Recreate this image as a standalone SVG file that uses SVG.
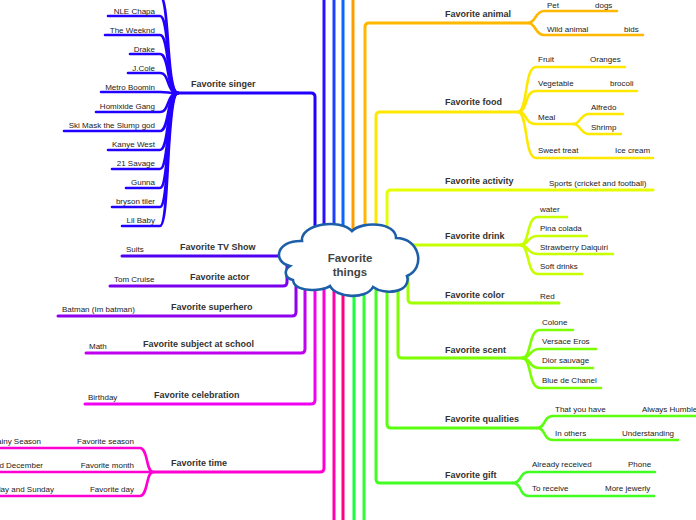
<svg xmlns="http://www.w3.org/2000/svg" width="696" height="520" viewBox="0 0 696 520">
<style>
.c{fill:none;stroke-width:3;stroke-linecap:round;stroke-linejoin:round}
.s{fill:none;stroke-width:2.6;stroke-linecap:round;stroke-linejoin:round}
.lbl{font-family:"Liberation Sans",Arial,sans-serif;font-weight:bold;font-size:9px;fill:#333}
.sub{font-family:"Liberation Sans",Arial,sans-serif;font-size:8px;fill:#222}
.end{text-anchor:end}
.ctr{font-family:"Liberation Sans",Arial,sans-serif;font-weight:bold;font-size:11.5px;fill:#444;text-anchor:middle}
</style>
<rect width="696" height="520" fill="#fff"/>
<g id="connectors">
  <!-- off-canvas trunks -->
  <path class="c" stroke="#2a10ff" d="M324 -5V255"/>
  <path class="c" stroke="#1f40ff" d="M334 -5V255"/>
  <path class="c" stroke="#0a66ff" d="M343 -5V255"/>
  <path class="c" stroke="#ff9d00" d="M353 -5V255"/>
  <path class="c" stroke="#ff00aa" d="M334 265V525"/>
  <path class="c" stroke="#ff0080" d="M343 265V525"/>
  <path class="c" stroke="#1aff3c" d="M354 265V525"/>
  <path class="c" stroke="#30ff30" d="M364 265V525"/>
  <!-- singer -->
  <path class="c" stroke="#2200ff" d="M315 260V97Q315 93 311 93H178"/>
  <g stroke="#2200ff">
    <path class="s" d="M120 -4H160C170 -4 166 93 178 93"/>
    <path class="s" d="M108 16H160C170 16 166 93 178 93"/>
    <path class="s" d="M105 35H160C170 35 166 93 178 93"/>
    <path class="s" d="M130 54H160C170 54 166 93 178 93"/>
    <path class="s" d="M128 73H160C170 73 166 93 178 93"/>
    <path class="s" d="M101 92H160C170 92 166 93 178 93"/>
    <path class="s" d="M96 112H160C170 112 166 93 178 93"/>
    <path class="s" d="M64 131H160C170 131 166 93 178 93"/>
    <path class="s" d="M108 150H160C170 150 166 93 178 93"/>
    <path class="s" d="M112 169H160C170 169 166 93 178 93"/>
    <path class="s" d="M126 188H160C170 188 166 93 178 93"/>
    <path class="s" d="M112 207H160C170 207 166 93 178 93"/>
    <path class="s" d="M122 226H160C170 226 166 93 178 93"/>
  </g>
  <!-- left single branches -->
  <path class="c" stroke="#5000f0" d="M122 256H300"/>
  <path class="c" stroke="#7a00ee" d="M287 260V282Q287 286 283 286H110"/>
  <path class="c" stroke="#9000ee" d="M296 260V312Q296 316 292 316H58"/>
  <path class="c" stroke="#c000f0" d="M305 260V349Q305 353 301 353H86"/>
  <path class="c" stroke="#f000f0" d="M315 260V400Q315 404 311 404H85"/>
  <path class="c" stroke="#ff00d4" d="M324 260V468Q324 472 320 472H153"/>
  <g stroke="#ff00d4">
    <path class="s" d="M-5 448H140C148 448 146 472 153 472"/>
    <path class="s" d="M-5 472H153"/>
    <path class="s" d="M-5 496H140C148 496 146 472 153 472"/>
  </g>
  <!-- animal -->
  <path class="c" stroke="#ffb800" d="M365 260V27Q365 23 369 23H528"/>
  <g stroke="#ffb800">
    <path class="s" d="M528 23C536 23 535 11 544 11H617"/>
    <path class="s" d="M528 23C536 23 535 35 544 35H643"/>
  </g>
  <!-- food -->
  <path class="c" stroke="#ffe800" d="M376 260V116Q376 112 380 112H518"/>
  <g stroke="#ffe800">
    <path class="s" d="M518 112C528 112 524 67 536 67H625"/>
    <path class="s" d="M518 112C528 112 524 91 536 91H637"/>
    <path class="s" d="M518 112C528 112 524 124 536 124H573"/>
    <path class="s" d="M573 124C581 124 580 114 589 114H623"/>
    <path class="s" d="M573 124C581 124 580 134 589 134H621"/>
    <path class="s" d="M518 112C528 112 524 158 536 158H653"/>
  </g>
  <!-- activity -->
  <path class="c" stroke="#e5ff00" d="M387 260V194Q387 190 391 190H653"/>
  <!-- drink -->
  <path class="c" stroke="#c8ff00" d="M395 245H520"/>
  <g stroke="#c8ff00">
    <path class="s" d="M520 245C530 245 526 217 538 217H567"/>
    <path class="s" d="M520 245C530 245 526 236 538 236H587"/>
    <path class="s" d="M520 245C530 245 526 254 538 254H613"/>
    <path class="s" d="M520 245C530 245 526 274 538 274H582"/>
  </g>
  <!-- color -->
  <path class="c" stroke="#a0ff00" d="M408 265V299Q408 303 412 303H559"/>
  <!-- scent -->
  <path class="c" stroke="#7cff00" d="M398 265V354Q398 358 402 358H522"/>
  <g stroke="#7cff00">
    <path class="s" d="M522 358C532 358 528 330 540 330H573"/>
    <path class="s" d="M522 358C532 358 528 349 540 349H596"/>
    <path class="s" d="M522 358C532 358 528 368 540 368H593"/>
    <path class="s" d="M522 358C532 358 528 388 540 388H601"/>
  </g>
  <!-- qualities -->
  <path class="c" stroke="#5aff10" d="M387 265V424Q387 428 391 428H537"/>
  <g stroke="#5aff10">
    <path class="s" d="M537 428C546 428 543 416 553 416H700"/>
    <path class="s" d="M537 428C546 428 543 440 553 440H678"/>
  </g>
  <!-- gift -->
  <path class="c" stroke="#40ff20" d="M376 265V479Q376 483 380 483H513"/>
  <g stroke="#40ff20">
    <path class="s" d="M513 483C522 483 519 472 529 472H655"/>
    <path class="s" d="M513 483C522 483 519 496 529 496H654"/>
  </g>
</g>
<g id="center">
  <path d="M302 241C300 224 340 218 352 231C362 221 396 222 396 238C420 238 426 268 407 276C412 292 385 296 373 287C366 300 336 298 330 286C322 292 294 292 293 280C284 278 284 270 290 266C272 262 276 240 302 241Z" fill="#fff" stroke="#1c5fa8" stroke-width="2.6"/>
  <text class="ctr" x="350" y="262">Favorite</text>
  <text class="ctr" x="350" y="276">things</text>
</g>
<g id="singer">
  <text class="lbl" x="191" y="87">Favorite singer</text>
  <text class="sub end" x="155" y="14">NLE Chapa</text>
  <text class="sub end" x="155" y="33">The Weeknd</text>
  <text class="sub end" x="155" y="52">Drake</text>
  <text class="sub end" x="155" y="71">J.Cole</text>
  <text class="sub end" x="155" y="90">Metro Boomin</text>
  <text class="sub end" x="155" y="109">Homixide Gang</text>
  <text class="sub end" x="155" y="128">Ski Mask the Slump god</text>
  <text class="sub end" x="155" y="147">Kanye West</text>
  <text class="sub end" x="155" y="166">21 Savage</text>
  <text class="sub end" x="155" y="185">Gunna</text>
  <text class="sub end" x="155" y="204">bryson tiler</text>
  <text class="sub end" x="155" y="223">Lil Baby</text>
</g>
<g id="tvshow">
  <text class="lbl" x="180" y="250">Favorite TV Show</text>
  <text class="sub" x="126" y="252">Suits</text>
</g>
<g id="actor">
  <text class="lbl" x="190" y="280">Favorite actor</text>
  <text class="sub" x="114" y="282">Tom Cruise</text>
</g>
<g id="superhero">
  <text class="lbl" x="171" y="310">Favorite superhero</text>
  <text class="sub" x="62" y="312">Batman (Im batman)</text>
</g>
<g id="subject">
  <text class="lbl" x="143" y="347">Favorite subject at school</text>
  <text class="sub" x="89" y="349">Math</text>
</g>
<g id="celebration">
  <text class="lbl" x="154" y="398">Favorite celebration</text>
  <text class="sub" x="88" y="400">Birthday</text>
</g>
<g id="time">
  <text class="lbl" x="171" y="466">Favorite time</text>
  <text class="sub end" x="134" y="444">Favorite season</text>
  <text class="sub end" x="41" y="444">Rainy Season</text>
  <text class="sub end" x="134" y="468">Favorite month</text>
  <text class="sub end" x="43" y="468">November and December</text>
  <text class="sub end" x="134" y="492">Favorite day</text>
  <text class="sub end" x="54" y="492">Saturday and Sunday</text>
</g>
<g id="animal">
  <text class="lbl" x="445" y="17">Favorite animal</text>
  <text class="sub" x="547" y="8">Pet</text>
  <text class="sub" x="595" y="8">dogs</text>
  <text class="sub" x="547" y="32">Wild animal</text>
  <text class="sub" x="624" y="32">bids</text>
</g>
<g id="food">
  <text class="lbl" x="445" y="105">Favorite food</text>
  <text class="sub" x="538" y="62">Fruit</text>
  <text class="sub" x="590" y="62">Oranges</text>
  <text class="sub" x="538" y="86">Vegetable</text>
  <text class="sub" x="610" y="86">brocoli</text>
  <text class="sub" x="538" y="120">Meal</text>
  <text class="sub" x="591" y="110">Alfredo</text>
  <text class="sub" x="591" y="130">Shrimp</text>
  <text class="sub" x="538" y="153">Sweet treat</text>
  <text class="sub" x="615" y="153">Ice cream</text>
</g>
<g id="activity">
  <text class="lbl" x="445" y="184">Favorite activity</text>
  <text class="sub" x="549" y="186">Sports (cricket and football)</text>
</g>
<g id="drink">
  <text class="lbl" x="445" y="239">Favorite drink</text>
  <text class="sub" x="540" y="212">water</text>
  <text class="sub" x="540" y="231">Pina colada</text>
  <text class="sub" x="540" y="250">Strawberry Daiquiri</text>
  <text class="sub" x="540" y="269">Soft drinks</text>
</g>
<g id="color">
  <text class="lbl" x="445" y="298">Favorite color</text>
  <text class="sub" x="540" y="299">Red</text>
</g>
<g id="scent">
  <text class="lbl" x="445" y="353">Favorite scent</text>
  <text class="sub" x="542" y="325">Colone</text>
  <text class="sub" x="542" y="344">Versace Eros</text>
  <text class="sub" x="542" y="363">Dior sauvage</text>
  <text class="sub" x="542" y="383">Blue de Chanel</text>
</g>
<g id="qualities">
  <text class="lbl" x="445" y="422">Favorite qualities</text>
  <text class="sub" x="555" y="412">That you have</text>
  <text class="sub" x="642" y="412">Always Humble</text>
  <text class="sub" x="555" y="436">In others</text>
  <text class="sub" x="622" y="436">Understanding</text>
</g>
<g id="gift">
  <text class="lbl" x="445" y="478">Favorite gift</text>
  <text class="sub" x="532" y="467">Already received</text>
  <text class="sub" x="628" y="467">Phone</text>
  <text class="sub" x="532" y="491">To receive</text>
  <text class="sub" x="605" y="491">More jewerly</text>
</g>
</svg>
